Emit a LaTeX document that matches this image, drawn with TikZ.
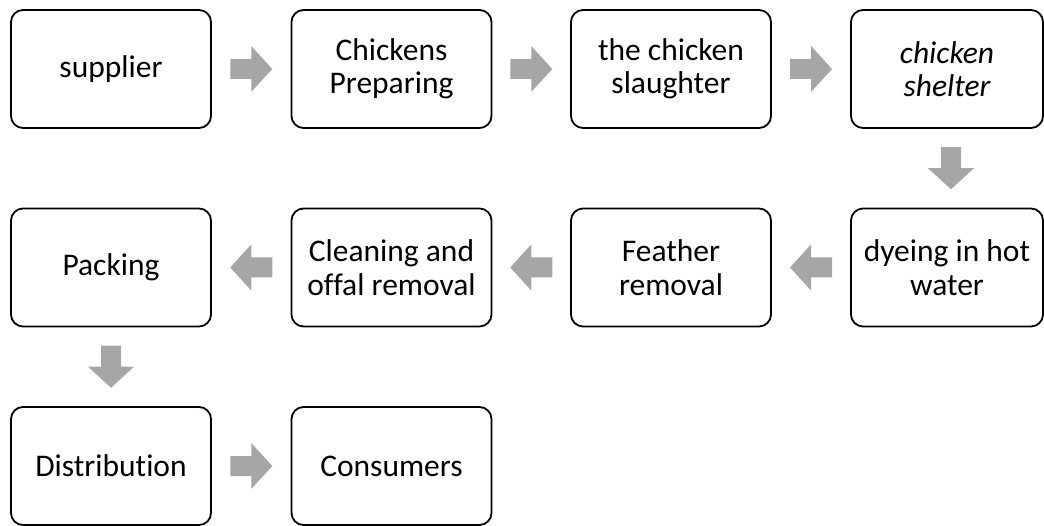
\documentclass[tikz,border=0pt]{standalone}
\usepackage{fontspec}
\setmainfont{Carlito}[Ligatures=NoCommon]
\usetikzlibrary{calc}
\definecolor{arrowgray}{RGB}{166,166,166}
\tikzset{
  stepbox/.style={draw=black, line width=1.8pt, rounded corners=12pt, fill=white,
    minimum width=200pt, minimum height=118pt, inner sep=0pt, align=center,
    font=\fontsize{31.5}{33.5}\selectfont},
  narrowbox/.style={stepbox, minimum width=192pt},
  blockarrow/.pic={\fill[arrowgray] (-21,-10) -- (0,-10) -- (0,-23) -- (21,0) -- (0,23) -- (0,10) -- (-21,10) -- cycle;}
}
\begin{document}
\begin{tikzpicture}[x=1pt,y=-1pt]
\useasboundingbox (0,0) rectangle (1044,526);
% row 1
\node[stepbox] (sup) at (111,69) {supplier};
\node[stepbox] (prep) at (391.5,69) {Chickens\\Preparing};
\node[stepbox] (slau) at (671,69) {the chicken\\slaughter};
\node[narrowbox] (shel) at (947,69) {\itshape chicken\\\itshape shelter};
% row 2
\node[narrowbox] (dye) at (947,267.5) {dyeing in hot\\water};
\node[stepbox] (feat) at (671,267.5) {Feather\\removal};
\node[stepbox] (clean) at (391.5,267.5) {Cleaning and\\offal removal};
\node[stepbox] (pack) at (111,267.5) {Packing};
% row 3
\node[stepbox] (dist) at (111,466) {Distribution};
\node[stepbox] (cons) at (391.5,466) {Consumers};
% arrows
\pic at ($(sup.east)!0.5!(prep.west)$) {blockarrow};
\pic at ($(prep.east)!0.5!(slau.west)$) {blockarrow};
\pic at ($(slau.east)!0.5!(shel.west)$) {blockarrow};
\pic[rotate=-90] at ($(shel.south)!0.5!(dye.north)+(4,0)$) {blockarrow};
\pic[rotate=180] at ($(dye.west)!0.5!(feat.east)$) {blockarrow};
\pic[rotate=180] at ($(feat.west)!0.5!(clean.east)$) {blockarrow};
\pic[rotate=180] at ($(clean.west)!0.5!(pack.east)$) {blockarrow};
\pic[rotate=-90] at ($(pack.south)!0.5!(dist.north)$) {blockarrow};
\pic at ($(dist.east)!0.5!(cons.west)$) {blockarrow};
\end{tikzpicture}
\end{document}
